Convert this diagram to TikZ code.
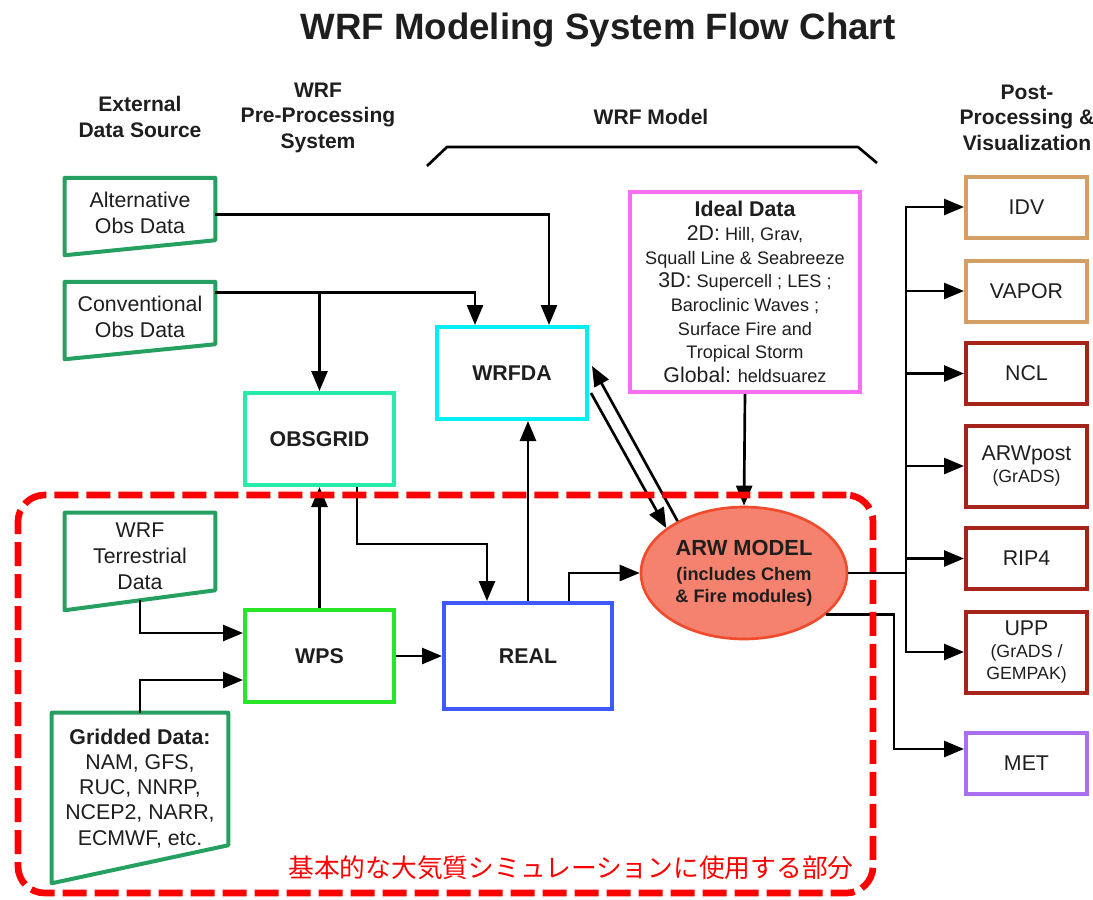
\documentclass[tikz,border=0pt]{standalone}
\usepackage{fontspec}
\setmainfont{Liberation Sans}
\newfontfamily\jpfont{Noto Sans CJK JP}
\usetikzlibrary{arrows.meta,calc,shapes.geometric}
\definecolor{txt}{RGB}{30,30,30}
\definecolor{srcgreen}{RGB}{38,160,96}
\definecolor{obsgreen}{RGB}{40,235,170}
\definecolor{wpsgreen}{RGB}{40,230,40}
\definecolor{wrfdacyan}{RGB}{0,240,245}
\definecolor{realblue}{RGB}{60,90,255}
\definecolor{idealpink}{RGB}{245,110,245}
\definecolor{tanc}{RGB}{210,160,100}
\definecolor{darkredc}{RGB}{165,35,25}
\definecolor{metpurple}{RGB}{170,110,240}
\definecolor{arwfill}{RGB}{245,130,110}
\definecolor{arwline}{RGB}{240,75,45}
\definecolor{framered}{RGB}{255,0,0}
\begin{document}
\begin{tikzpicture}[x=0.75pt,y=-0.75pt,
  hdr/.style={align=center,text=txt,font=\bfseries\fontsize{15.8}{19.1}\selectfont,inner sep=0pt},
  src/.style={align=center,text=txt,inner sep=0pt,font=\fontsize{16}{19.5}\selectfont},
  srcline/.style={draw=srcgreen,line width=3pt,line join=round},
  pbox/.style={draw,line width=3pt,inner sep=0pt,align=center,text=txt,font=\bfseries\fontsize{16}{19}\selectfont,minimum width=111.75pt,minimum height=69pt},
  obox/.style={draw,line width=3pt,inner sep=0pt,align=center,text=txt,font=\fontsize{16}{17}\selectfont,minimum width=90.75pt,minimum height=45.75pt},
  conn/.style={line width=2pt,draw=black,-{Triangle[length=15pt,width=12pt]}},
  plain/.style={line width=2pt,draw=black}]
\useasboundingbox (0,0) rectangle (1093,900);

% title and headings
\node[font=\bfseries\fontsize{27.5}{30}\selectfont,text=txt] (title) at (598,30) {WRF Modeling System Flow Chart};
\node[hdr] (hext) at (140,117) {External\\Data Source};
\node[hdr] (hpre) at (318,117.5) {WRF\\Pre-Processing\\System};
\node[hdr] (hmod) at (651,117) {WRF Model};
\node[hdr] (hpost) at (1027,117.5) {Post-\\Processing \&\\Visualization};
\draw[line width=2pt,line join=round] (427,166) -- (447,147) -- (858,147) -- (877,163);

% external data sources
\node[src,minimum width=112.5pt,minimum height=52.1pt] (alt) at (140,212.75) {Alternative\\Obs Data};
\draw[srcline] (alt.north west) -- (alt.north east) -- ($(alt.south east)+(0,-7.5)$) -- ($(alt.south west)+(0,7.5)$) -- cycle;
\node[src,minimum width=112.5pt,minimum height=52.1pt] (conv) at (140,316.75) {Conventional\\Obs Data};
\draw[srcline] (conv.north west) -- (conv.north east) -- ($(conv.south east)+(0,-7.5)$) -- ($(conv.south west)+(0,7.5)$) -- cycle;
\node[src,minimum width=112.5pt,minimum height=65.25pt] (terr) at (140,556.5) {WRF\\Terrestrial\\Data};
\draw[srcline] (terr.north west) -- (terr.north east) -- ($(terr.south east)+(0,-10)$) -- ($(terr.south west)+(0,10)$) -- cycle;
\node[src,minimum width=132pt,minimum height=113.25pt,font=\fontsize{16}{18.8}\selectfont] (grid) at (140,788.5) {\textbf{Gridded Data:}\\NAM, GFS,\\RUC, NNRP,\\NCEP2, NARR,\\ECMWF, etc.};
\draw[srcline] (grid.north west) -- (grid.north east) -- ($(grid.south east)+(0,-19)$) -- ($(grid.south west)+(0,19)$) -- cycle;

% processing boxes
\node[pbox,draw=obsgreen] (obsgrid) at (319.5,439) {OBSGRID};
\node[pbox,draw=wpsgreen] (wps) at (319.5,656) {WPS};
\node[pbox,draw=wrfdacyan,minimum width=112.5pt] (wrfda) at (512,373) {WRFDA};
\node[pbox,draw=realblue,minimum width=126pt,minimum height=79.5pt] (real) at (528,656) {REAL};
\node[draw=idealpink,line width=3pt,inner sep=0pt,align=center,text=txt,minimum width=172.5pt,minimum height=150pt,font=\fontsize{13.6}{17.8}\selectfont] (ideal) at (745,292)
  {{\bfseries\fontsize{16}{17.8}\selectfont Ideal Data}\\
   {\fontsize{16}{17.8}\selectfont 2D:} Hill, Grav,\\
   Squall Line \& Seabreeze\\
   {\fontsize{16}{17.8}\selectfont 3D:} Supercell ; LES ;\\
   Baroclinic Waves ;\\
   Surface Fire and\\
   Tropical Storm\\
   {\fontsize{16}{17.8}\selectfont Global:} heldsuarez};
\node[ellipse,draw=arwline,fill=arwfill,line width=2pt,inner sep=0pt,minimum width=154.5pt,minimum height=99pt,align=center,text=txt,font=\bfseries\fontsize{13.6}{16}\selectfont] (arw) at (744,573)
  {{\fontsize{16.4}{16}\selectfont ARW MODEL}\\[3pt](includes Chem\\\& Fire modules)};

% post-processing boxes
\node[obox,draw=tanc] (idv) at (1026.5,207) {IDV};
\node[obox,draw=tanc] (vapor) at (1026.5,291) {VAPOR};
\node[obox,draw=darkredc] (ncl) at (1026.5,373.5) {NCL};
\node[obox,draw=darkredc,minimum height=60.75pt] (arwpost) at (1026.5,466) {ARWpost\\{\fontsize{13.3}{16}\selectfont(GrADS)}};
\node[obox,draw=darkredc] (rip) at (1026.5,558.5) {RIP4};
\node[obox,draw=darkredc,minimum height=60.75pt,font=\fontsize{16}{16.5}\selectfont] (upp) at (1026.5,652) {UPP\\{\fontsize{13.3}{16}\selectfont(GrADS /}\\{\fontsize{13.3}{16}\selectfont GEMPAK)}};
\node[obox,draw=metpurple] (met) at (1026.5,763) {MET};

% connectors
\coordinate (altout) at ($(alt.north east)+(0,37)$);
\coordinate (convout) at ($(conv.north east)+(0,11)$);
\draw[conn] (altout) -| ($(wrfda.north)+(37,0)$);
\draw[conn] (convout) -| ($(wrfda.north)+(-37,0)$);
\draw[conn] (convout -| obsgrid.north) -- (obsgrid.north);
\draw[conn] (wps.north) -- (obsgrid.south);
\draw[conn] ($(obsgrid.south)+(37.5,0)$) -- ++(0,57) -| ($(real.north)+(-41,0)$);
\draw[conn] (wps.east) -- (real.west);
\draw[conn] (real.north) -- (real.north |- wrfda.south);
\draw[conn] ($(real.north)+(41,0)$) |- (arw.west);
\draw[conn] (terr.south) |- ($(wps.west)+(0,-23)$);
\draw[conn] (grid.north) |- ($(wps.west)+(0,24)$);
\draw[conn] (ideal.south) -- (arw.north);
\draw[conn] (arw.142) -- ($(wrfda.east)+(3,-7)$);
\draw[conn] ($(wrfda.east)+(2,20)$) -- (arw.150);

\coordinate (tr) at (906,573);
\draw[plain] (arw.east) -- (tr);
\draw[plain,line cap=rect] (tr |- idv.west) -- (tr |- upp.west);
\foreach \n in {idv,vapor,ncl,arwpost,rip,upp}
  \draw[conn] (tr |- \n.west) -- (\n.west);
\draw[conn] (arw.-27) -- ++(68,0) |- ($(met.west)+(0,-14)$);

% highlighted region
\node[draw=framered,line width=5pt,dash pattern=on 18pt off 6pt,rounded corners=20pt,inner sep=0pt,minimum width=641.25pt,minimum height=298.5pt] (frame) at (445.5,694) {};
\node[text=framered,font=\jpfont\fontsize{19.3}{22}\selectfont,inner sep=0pt] (jp) at (571,868) {基本的な大気質シミュレーションに使用する部分};
\end{tikzpicture}
\end{document}
